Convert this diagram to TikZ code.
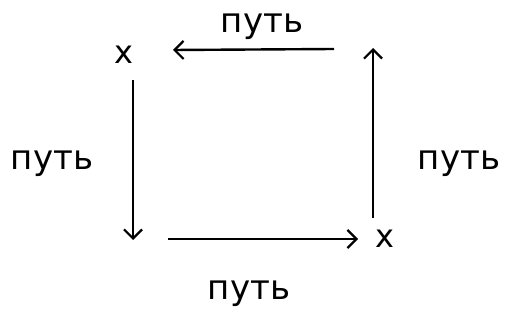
\documentclass[tikz,border=0pt]{standalone}
\usepackage{fontspec}
\setmainfont{DejaVu Sans}
\usetikzlibrary{arrows.meta, positioning, calc}
\tikzset{
    mark_x/.style={inner sep=0pt, font=\fontsize{32}{32}\selectfont},
    path_label/.style={inner sep=0pt, anchor=base, font=\fontsize{34}{34}\selectfont},
    arrow/.style={-{Straight Barb[length=9pt, width=18pt, line width=2.2pt]}, line width=2.4pt}
}

\begin{document}
\begin{tikzpicture}[x=1pt, y=1pt]

    \useasboundingbox (0,0) rectangle (506,332);

    % Marks
    \node[mark_x] (start) at (124,277) {x};
    \node[mark_x] (finish) at (385,93) {x};

    % Arrow ends
    \coordinate (top_a) at (334,283);
    \coordinate (top_b) at (173,282);
    \coordinate (right_a) at (373,114);
    \coordinate (right_b) at (373,284);
    \coordinate (bottom_a) at (168,93);
    \coordinate (bottom_b) at (358,93);
    \coordinate (left_a) at (133,252);
    \coordinate (left_b) at (133,92);

    % Arrows
    \draw[arrow] (top_a) -- (top_b);
    \draw[arrow] (right_a) -- (right_b);
    \draw[arrow] (bottom_a) -- (bottom_b);
    \draw[arrow] (left_a) -- (left_b);

    % Labels
    \node[path_label] (lbl_top) at (262,299) {путь};
    \node[path_label] (lbl_right) at (459,162) {путь};
    \node[path_label] (lbl_bottom) at (249,32) {путь};
    \node[path_label] (lbl_left) at (52,162) {путь};

\end{tikzpicture}
\end{document}
